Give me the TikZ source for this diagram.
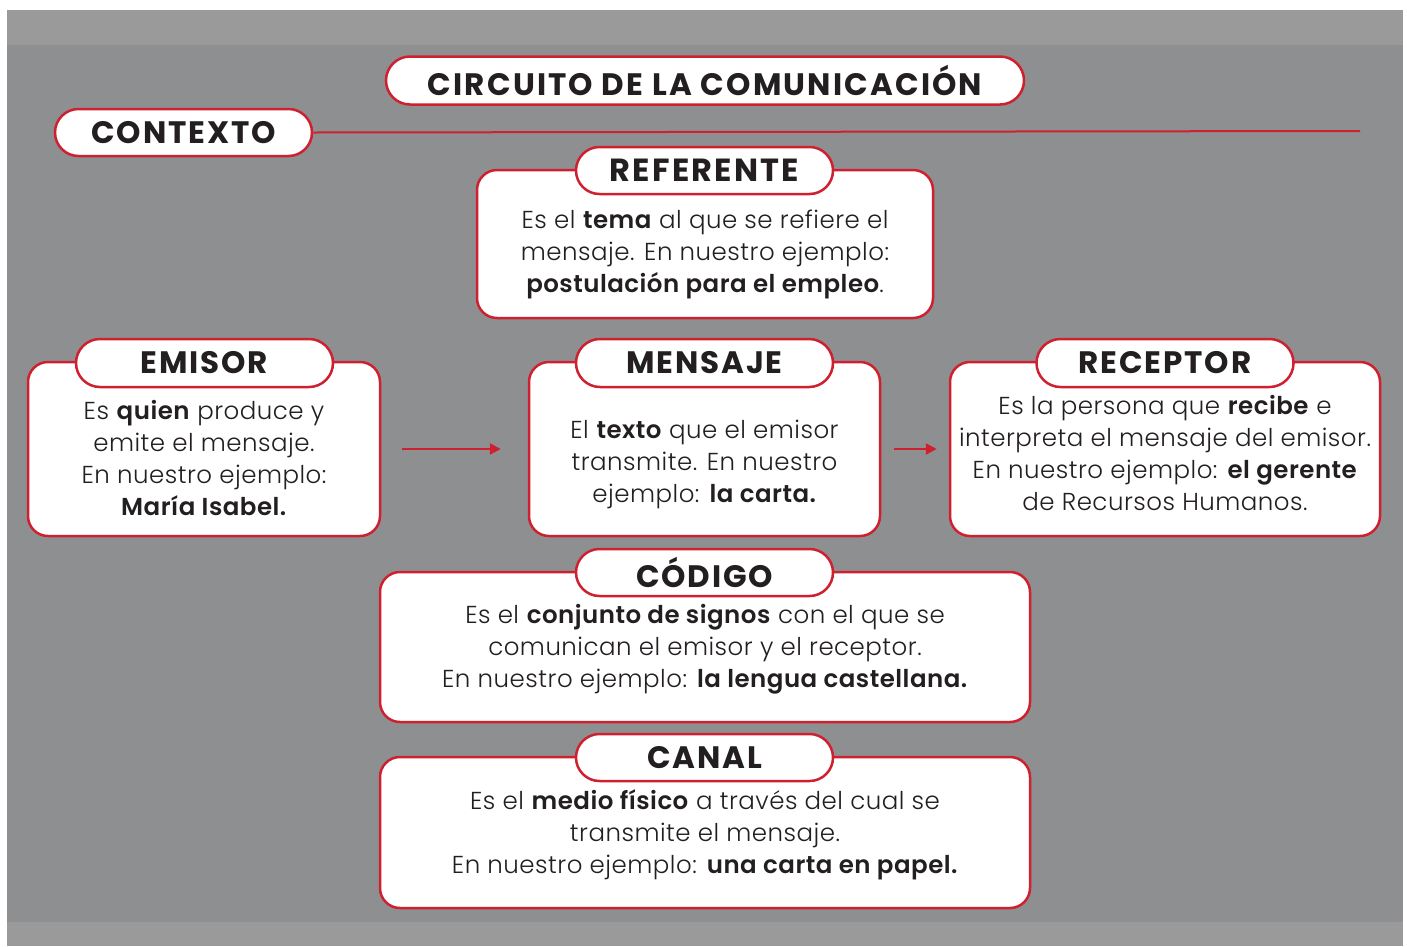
\documentclass[tikz,border=0pt]{standalone}
\usepackage{fontspec}
\setmainfont{Poppins}[UprightFont=* Light, BoldFont=* SemiBold]
\newfontfamily\cabecera{Poppins Bold}[LetterSpace=6]
\newfontfamily\rotulo{Poppins Bold}[LetterSpace=7]
\newfontfamily\cuerpo{Poppins}[UprightFont=* Light, BoldFont=* SemiBold, LetterSpace=2]
\usepackage{xcolor}
\usetikzlibrary{shapes.misc, positioning, arrows.meta}

\begin{document}
\begin{tikzpicture}[x=1pt, y=-1pt, line width=2.5pt]

%colours
\definecolor{rojo}{HTML}{CF2030}
\definecolor{gris}{HTML}{8E8F91}
\definecolor{grisclaro}{HTML}{9A9A9A}
\definecolor{tinta}{HTML}{231F20}

\tikzset{
  caja/.style={draw=rojo, fill=white, rounded corners=20pt, inner sep=0pt},
  pildora/.style={draw=rojo, fill=white, rounded rectangle, inner sep=0pt,
    minimum width=257pt, minimum height=48pt, text=tinta,
    font=\fontsize{31}{32}\cabecera},
  texto/.style={align=center, text=tinta, font=\fontsize{24.5}{32}\cuerpo},
  flecha/.style={draw=rojo, -{Triangle[length=11pt,width=11pt]}}
}

\useasboundingbox (0,0) rectangle (1407,946);

%background
  \fill[white] (0,0) rectangle (1407,946);
  \fill[grisclaro] (7,10) rectangle (1403,946);
  \fill[gris] (7,45) rectangle (1403,922);

%title and context
  \node[pildora, minimum width=638pt, font=\fontsize{31}{32}\rotulo] (titulo) at (705,80.5) {CIRCUITO DE LA COMUNICACIÓN};
  \node[pildora, minimum height=47pt] (contexto) at (183.5,132.5) {CONTEXTO};
  \coordinate (finlinea) at (1360,131);
  \draw[rojo, line width=2pt] (contexto.east) -- (finlinea);

%boxes
  \node[caja, minimum width=456pt, minimum height=148pt] (referente) at (705,244) {};
  \node[caja, minimum width=352pt, minimum height=174pt] (emisor) at (204,449) {};
  \node[caja, minimum width=351pt, minimum height=174pt] (mensaje) at (704.5,449) {};
  \node[caja, minimum width=430pt, minimum height=174pt] (receptor) at (1165,449) {};
  \node[caja, minimum width=650pt, minimum height=150pt] (codigo) at (705,647) {};
  \node[caja, minimum width=650pt, minimum height=151pt] (canal) at (705,832.5) {};

%headers
  \node[pildora, minimum height=47pt, font=\fontsize{32}{32}\rotulo] (referente-t) at (704.5,170.5) {REFERENTE};
  \node[pildora] (emisor-t) at (204.5,363) {EMISOR};
  \node[pildora] (mensaje-t) at (704.5,363) {MENSAJE};
  \node[pildora] (receptor-t) at (1165,363) {RECEPTOR};
  \node[pildora, minimum height=47pt] (codigo-t) at (704.5,572.5) {CÓDIGO};
  \node[pildora, minimum height=47pt] (canal-t) at (704.5,757.5) {CANAL};

%texts
  \node[texto] (referente-x) at (705,254) {Es el \textbf{tema} al que se refiere el\\mensaje. En nuestro ejemplo:\\\textbf{postulación para el empleo}.};
  \node[texto] (emisor-x) at (204,458) {Es \textbf{quien} produce y\\emite el mensaje.\\En nuestro ejemplo:\\\textbf{María Isabel.}};
  \node[texto] (mensaje-x) at (704.5,464) {El \textbf{texto} que el emisor\\transmite. En nuestro\\ejemplo: \textbf{la carta.}};
  \node[texto] (receptor-x) at (1165,453) {Es la persona que \textbf{recibe} e\\interpreta el mensaje del emisor.\\En nuestro ejemplo: \textbf{el gerente}\\de Recursos Humanos.};
  \node[texto] (codigo-x) at (705,649) {Es el \textbf{conjunto de signos} con el que se\\comunican el emisor y el receptor.\\En nuestro ejemplo: \textbf{la lengua castellana.}};
  \node[texto] (canal-x) at (705,835) {Es el \textbf{medio físico} a través del cual se\\transmite el mensaje.\\En nuestro ejemplo: \textbf{una carta en papel.}};

%arrows
  \draw[flecha, shorten <=21pt, shorten >=27pt] (emisor.east) -- (mensaje.west);
  \draw[flecha, shorten <=13pt, shorten >=12pt] (mensaje.east) -- (receptor.west);
\end{tikzpicture}
\end{document}
